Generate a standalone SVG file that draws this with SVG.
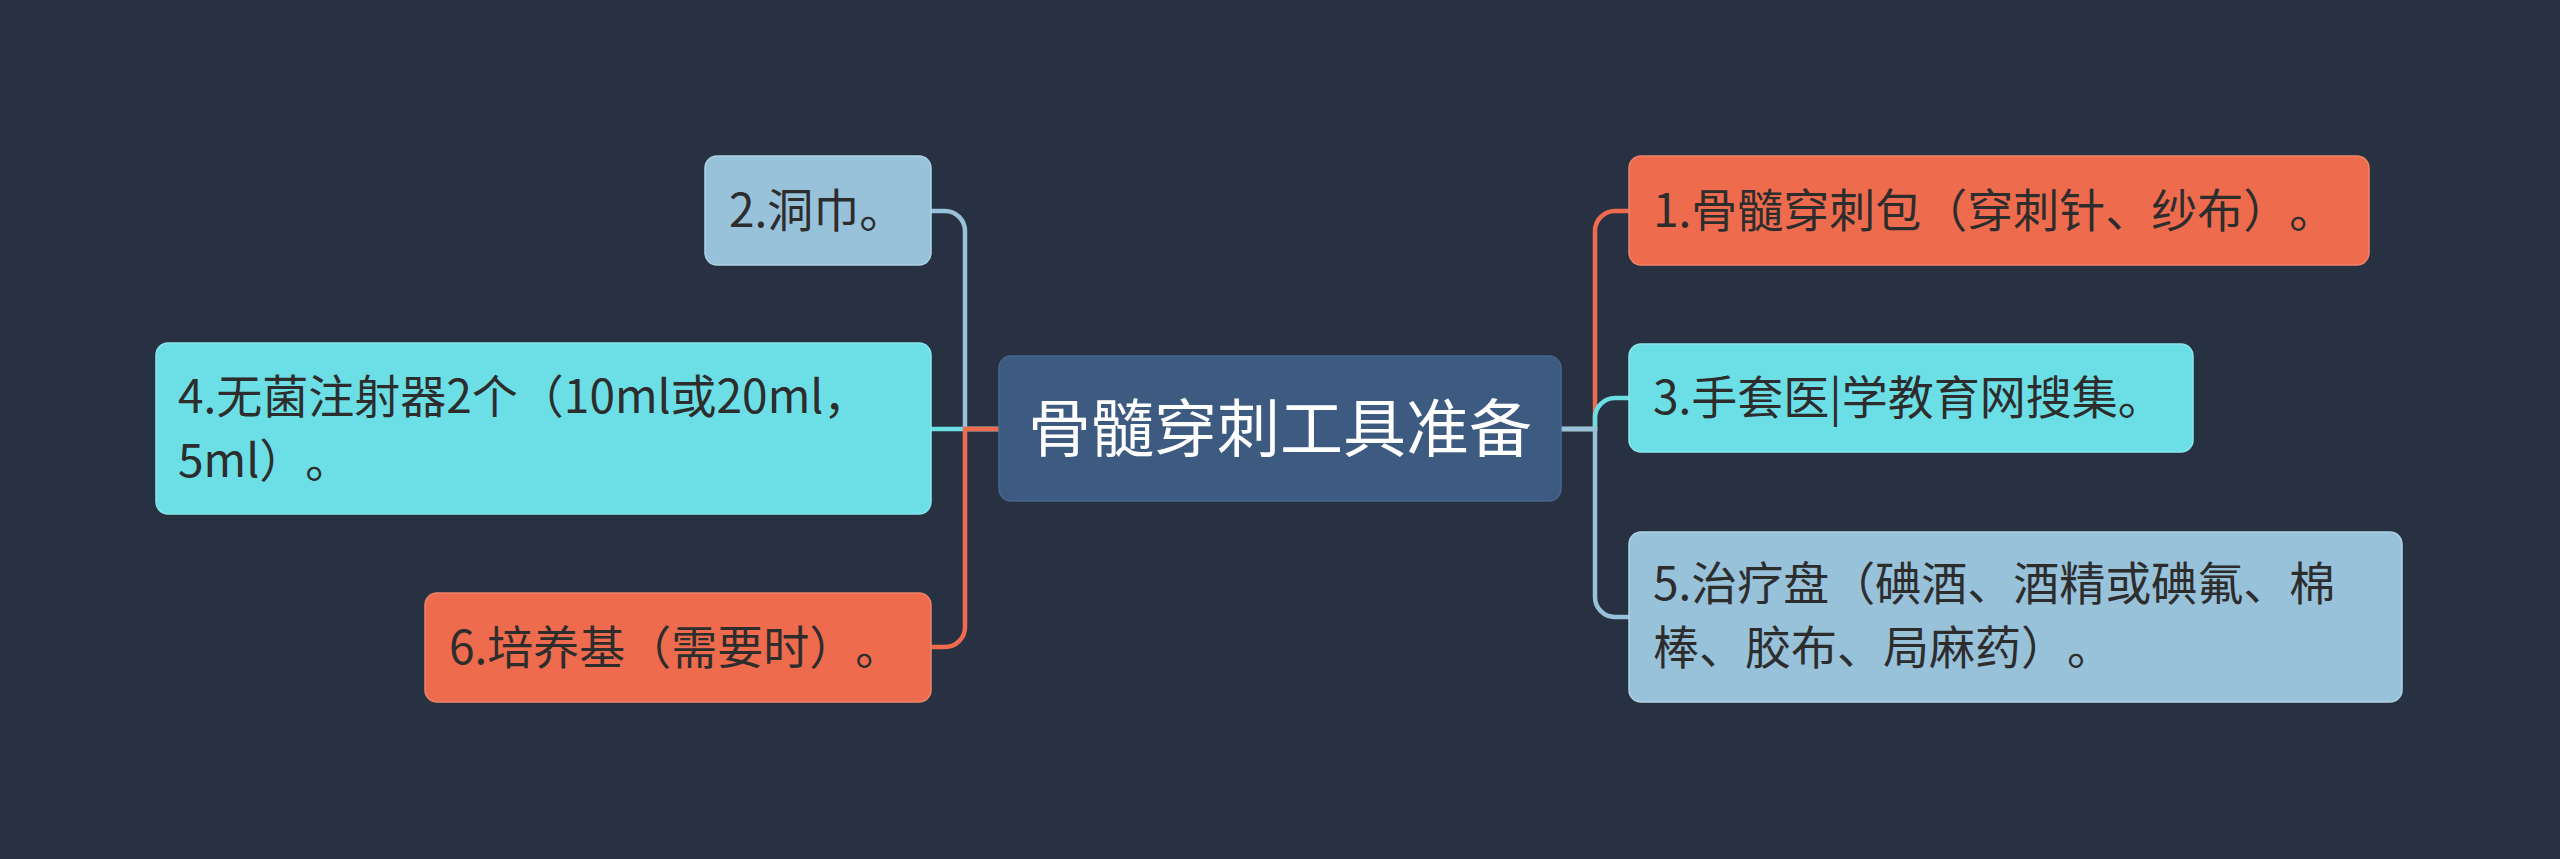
<svg xmlns="http://www.w3.org/2000/svg" width="2560" height="859" viewBox="0 0 2560 859">
<style>
.bg{fill:#283142}
.n rect{rx:12px;ry:12px;stroke-width:1.5}
text{text-spacing-trim:space-all;font-feature-settings:"chws" 0,"halt" 0}
.t{font-family:"Noto Sans CJK SC","Noto Sans",sans-serif;font-size:46px;fill:#2d2d2d}
.ct{font-family:"Noto Sans CJK SC","Noto Sans",sans-serif;font-size:63px;fill:#ffffff;text-anchor:middle}
.or{fill:#EE6B4D;stroke:#f08468}
.cy{fill:#6CDFE6;stroke:#8be8ee}
.lb{fill:#98C1DA;stroke:#b0d2e6}
.c path{fill:none;stroke-width:4.5}
</style>
<rect class="bg" x="0" y="0" width="2560" height="859"/>
<g id="connectors" class="c">
<path d="M999,429 H965 V231 A20,20 0 0 0 945,211 H931" stroke="#98C1DA"/>
<path d="M999,429 H931" stroke="#6CDFE6"/>
<path d="M999,429 H965 V627 A20,20 0 0 1 945,647 H931" stroke="#EE6B4D"/>
<path d="M1561,429 H1595 V231 A20,20 0 0 1 1615,211 H1629" stroke="#EE6B4D"/>
<path d="M1561,429 H1595 V418 A20,20 0 0 1 1615,398 H1629" stroke="#6CDFE6"/>
<path d="M1561,429 H1595 V597 A20,20 0 0 0 1615,617 H1629" stroke="#98C1DA"/>
</g>
<g id="center" class="n">
<rect x="999" y="356" width="562" height="145" fill="#3D5A80" stroke="#46658c"/>
<text class="ct" x="1280" y="451">骨髓穿刺工具准备</text>
</g>
<g id="node1" class="n">
<rect class="or" x="1629" y="156" width="740" height="109"/>
<text class="t" x="1653" y="227">1.骨髓穿刺包（穿刺针、纱布）。</text>
</g>
<g id="node3" class="n">
<rect class="cy" x="1629" y="344" width="564" height="108"/>
<text class="t" x="1653" y="414">3.手套医|学教育网搜集。</text>
</g>
<g id="node5" class="n">
<rect class="lb" x="1629" y="532" width="773" height="170"/>
<text class="t" x="1653" y="600">5.治疗盘（碘酒、酒精或碘氟、棉</text>
<text class="t" x="1653" y="664">棒、胶布、局麻药）。</text>
</g>
<g id="node2" class="n">
<rect class="lb" x="705" y="156" width="226" height="109"/>
<text class="t" x="729" y="227">2.洞巾。</text>
</g>
<g id="node4" class="n">
<rect class="cy" x="156" y="343" width="775" height="171"/>
<text class="t" x="178" y="413">4.无菌注射器2个（10ml或20ml，</text>
<text class="t" x="178" y="477">5ml）。</text>
</g>
<g id="node6" class="n">
<rect class="or" x="425" y="593" width="506" height="109"/>
<text class="t" x="449" y="664">6.培养基（需要时）。</text>
</g>
</svg>
